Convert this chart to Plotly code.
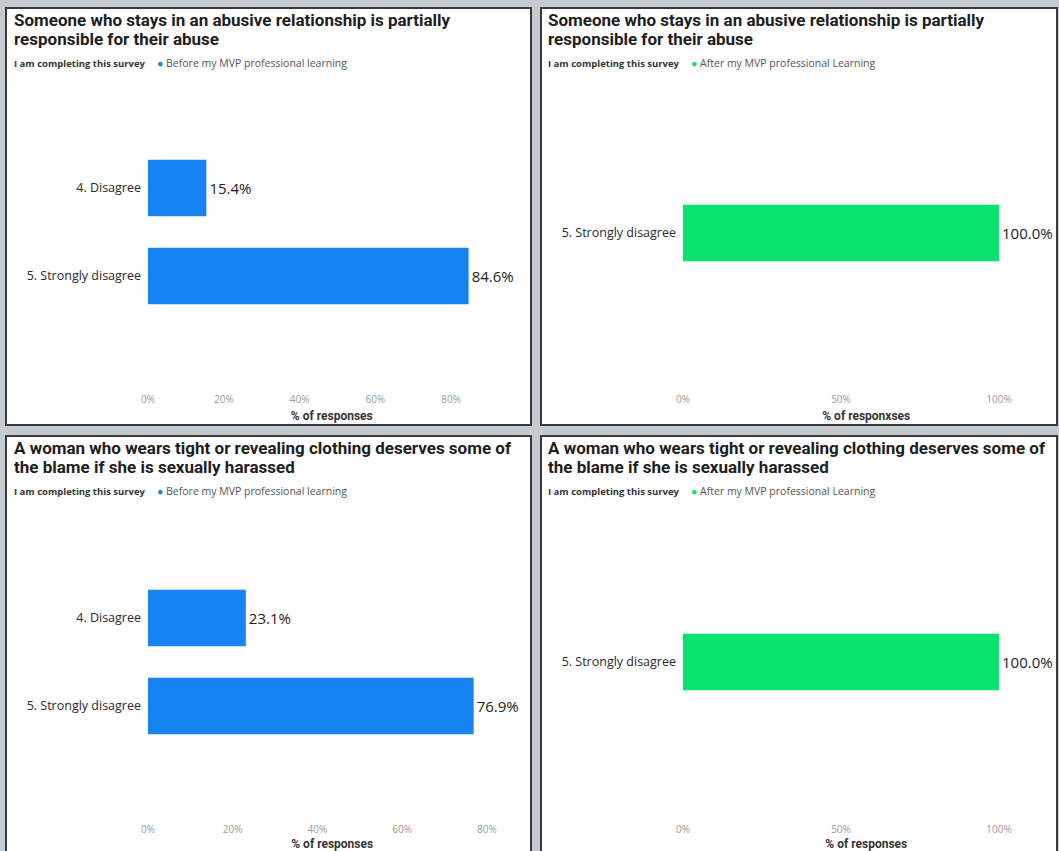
import plotly.graph_objects as go

W, H = 1059, 851

# ---------------- data ----------------
question_1 = ["Someone who stays in an abusive relationship is partially",
              "responsible for their abuse"]
question_2 = ["A woman who wears tight or revealing clothing deserves some of",
              "the blame if she is sexually harassed"]
legend_title = "I am completing this survey"
before_label = "Before my MVP professional learning"
after_label = "After my MVP professional Learning"

cats_before = ["4. Disagree", "5. Strongly disagree"]
cats_after = ["5. Strongly disagree"]

q1_before = [15.4, 84.6]
q1_after = [100.0]
q2_before = [23.1, 76.9]
q2_after = [100.0]

ticks_before = [0, 20, 40, 60, 80]
ticks_after = [0, 50, 100]
xtitle_tl = "% of responses"
xtitle_tr = "% of responxses"
xtitle_bl = "% of responses"
xtitle_br = "% of responses"

BLUE = "#1683F2"
GREEN = "#0AE26E"


def px(x):
    return x / W


def py(y):
    return 1 - y / H


fig = go.Figure()

panels = [
    dict(ax="", cats=cats_before, vals=q1_before, color=BLUE, x0=148, xmax=97, pxu=3.79,
         c0=188, ticks=ticks_before, axis_y=392, xtitle=xtitle_tl),
    dict(ax="2", cats=cats_after, vals=q1_after, color=GREEN, x0=683, xmax=116, pxu=3.16,
         c0=233, ticks=ticks_after, axis_y=392, xtitle=xtitle_tr),
    dict(ax="3", cats=cats_before, vals=q2_before, color=BLUE, x0=148, xmax=87, pxu=4.235,
         c0=618, ticks=ticks_before, axis_y=822, xtitle=xtitle_bl),
    dict(ax="4", cats=cats_after, vals=q2_after, color=GREEN, x0=683, xmax=116, pxu=3.16,
         c0=662, ticks=ticks_after, axis_y=822, xtitle=xtitle_br),
]

STEP = 88  # px per category

for p in panels:
    n = len(p["cats"])
    fig.add_trace(go.Bar(
        x=p["vals"], y=p["cats"], orientation="h",
        xaxis="x" + p["ax"], yaxis="y" + p["ax"],
        marker=dict(color=p["color"], line=dict(width=0)),
        width=0.64,
        text=[f"{v:.1f}%" for v in p["vals"]],
        textposition="outside",
        textfont=dict(family="Open Sans", size=15, color="#222222"),
        constraintext="none",
        cliponaxis=False,
        showlegend=False,
        hoverinfo="skip",
    ))
    x_end = p["x0"] + p["xmax"] * p["pxu"]
    top = p["c0"] - STEP / 2
    bot = p["c0"] + STEP * (n - 1) + STEP / 2
    fig.layout["xaxis" + p["ax"]] = dict(
        domain=[px(p["x0"]), px(x_end)],
        range=[0, p["xmax"]],
        anchor="free", position=py(p["axis_y"]),
        tickvals=p["ticks"], ticktext=[f"{t}%" for t in p["ticks"]],
        tickfont=dict(family="Open Sans", size=10, color="#9a9a9a"),
        showgrid=False, zeroline=False, showline=False, ticks="",
        title=dict(text="<b>" + p["xtitle"] + "</b>",
                   font=dict(family="Roboto", size=12, color="#333333"), standoff=6),
        automargin=False,
        fixedrange=True,
    )
    fig.layout["yaxis" + p["ax"]] = dict(
        domain=[py(bot), py(top)],
        type="category", categoryorder="array", categoryarray=p["cats"],
        range=[n - 0.5, -0.5],
        anchor="x" + p["ax"],
        tickfont=dict(family="Open Sans", size=12.5, color="#2a2a2a"),
        showgrid=False, zeroline=False, showline=False, ticks="",
        ticklabelstandoff=6,
        automargin=False,
        fixedrange=True,
    )

# panel frames
frames = [(6, 8, 531, 425), (541, 8, 1057, 425), (6, 436, 531, 860), (541, 436, 1057, 860)]
shapes = []
for (x0, y0, x1, y1) in frames:
    shapes.append(dict(type="rect", xref="paper", yref="paper",
                       x0=px(x0), x1=px(x1), y0=py(y1), y1=py(y0),
                       fillcolor="white", line=dict(color="#3a3a3a", width=2), layer="below"))

# titles and legend rows
annotations = []
heads = [(12, 8, question_1, BLUE, before_label), (546, 8, question_1, GREEN, after_label),
         (12, 436, question_2, BLUE, before_label), (546, 436, question_2, GREEN, after_label)]
for (x, y, q, col, lab) in heads:
    for i, line in enumerate(q):
        annotations.append(dict(xref="paper", yref="paper", x=px(x), y=py(y + 12 + 19 * i),
                                xanchor="left", yanchor="middle", align="left", showarrow=False,
                                text="<b>" + line + "</b>",
                                font=dict(family="Roboto", size=17, color="#1e1e1e")))
    annotations.append(dict(xref="paper", yref="paper", x=px(x), y=py(y + 55), xanchor="left", yanchor="middle",
                            align="left", showarrow=False, text=f"<b>{legend_title}</b>",
                            font=dict(family="Open Sans", size=9.5, color="#333333")))
    annotations.append(dict(xref="paper", yref="paper", x=px(x + 143), y=py(y + 55), xanchor="left", yanchor="middle",
                            align="left", showarrow=False,
                            text=f"<span style='color:{col}'>●</span> {lab}",
                            font=dict(family="Open Sans", size=10.5, color="#555555")))

fig.update_layout(
    width=W, height=H,
    margin=dict(l=0, r=0, t=0, b=0),
    paper_bgcolor="#c4ccd1",
    plot_bgcolor="rgba(0,0,0,0)",
    shapes=shapes,
    annotations=annotations,
    bargap=0.3,
)

fig.write_html("out.html")
